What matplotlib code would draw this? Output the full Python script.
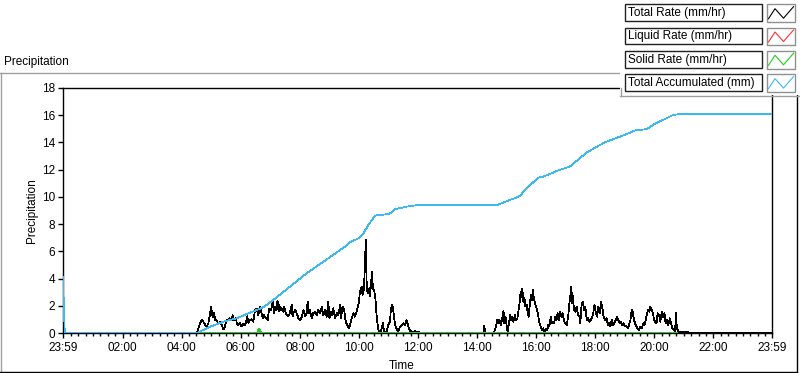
import matplotlib
matplotlib.use("Agg")
import matplotlib.pyplot as plt
from matplotlib.lines import Line2D
from matplotlib.patches import Rectangle
import numpy as np

plt.rcParams["font.family"] = ["Liberation Sans", "DejaVu Sans"]
plt.rcParams["font.size"] = 8

# %%
# Data (time = hours after 23:59)
# -------------------------------

rate_hours = [
    0.00, 4.53, 4.62, 4.69, 4.75, 4.81, 4.86, 4.92, 4.98, 5.01,
    5.07, 5.11, 5.15, 5.20, 5.26, 5.31, 5.37, 5.43, 5.48, 5.54,
    5.60, 5.65, 5.71, 5.74, 5.79, 5.86, 5.88, 5.93, 5.99, 6.05,
    6.10, 6.16, 6.22, 6.24, 6.27, 6.33, 6.39, 6.44, 6.50, 6.56,
    6.61, 6.67, 6.70, 6.76, 6.80, 6.87, 6.93, 6.98, 7.04, 7.10,
    7.14, 7.18, 7.21, 7.26, 7.30, 7.32, 7.37, 7.41, 7.46, 7.49,
    7.54, 7.59, 7.63, 7.68, 7.74, 7.77, 7.82, 7.87, 7.91, 7.97,
    8.02, 8.08, 8.11, 8.14, 8.19, 8.25, 8.28, 8.33, 8.36, 8.42,
    8.47, 8.53, 8.59, 8.64, 8.70, 8.76, 8.81, 8.87, 8.93, 8.98,
    9.02, 9.07, 9.12, 9.15, 9.21, 9.27, 9.32, 9.38, 9.41, 9.46,
    9.52, 9.57, 9.62, 9.68, 9.73, 9.77, 9.83, 9.88, 9.94, 9.98,
    10.02, 10.05, 10.11, 10.14, 10.19, 10.22, 10.25, 10.28, 10.31, 10.36,
    10.39, 10.43, 10.46, 10.49, 10.54, 10.57, 10.61, 10.65, 10.70, 10.74,
    10.79, 10.83, 10.87, 10.91, 10.96, 11.01, 11.07, 11.10, 11.15, 11.19,
    11.24, 11.29, 11.35, 11.41, 11.47, 11.52, 11.58, 11.63, 11.69, 11.75,
    11.80, 11.86, 11.92, 11.97, 12.03, 12.08, 14.23, 14.26, 14.30, 14.59,
    14.62, 14.66, 14.70, 14.74, 14.77, 14.82, 14.86, 14.91, 14.94, 14.98,
    15.02, 15.05, 15.10, 15.13, 15.16, 15.21, 15.24, 15.30, 15.33, 15.38,
    15.42, 15.47, 15.49, 15.53, 15.55, 15.58, 15.62, 15.65, 15.70, 15.73,
    15.76, 15.81, 15.84, 15.88, 15.90, 15.94, 15.98, 16.01, 16.06, 16.09,
    16.13, 16.17, 16.21, 16.26, 16.30, 16.35, 16.39, 16.43, 16.46, 16.51,
    16.54, 16.57, 16.62, 16.67, 16.71, 16.74, 16.78, 16.82, 16.87, 16.91,
    16.96, 16.99, 17.05, 17.10, 17.14, 17.17, 17.21, 17.23, 17.25, 17.30,
    17.34, 17.39, 17.43, 17.48, 17.51, 17.55, 17.59, 17.64, 17.68, 17.73,
    17.77, 17.82, 17.90, 17.95, 17.99, 18.03, 18.08, 18.12, 18.18, 18.21,
    18.26, 18.30, 18.35, 18.40, 18.44, 18.48, 18.53, 18.57, 18.62, 18.66,
    18.71, 18.75, 18.80, 18.84, 18.89, 18.93, 18.98, 19.02, 19.07, 19.12,
    19.16, 19.21, 19.25, 19.28, 19.32, 19.36, 19.41, 19.45, 19.50, 19.54,
    19.59, 19.64, 19.68, 19.73, 19.77, 19.81, 19.85, 19.88, 19.93, 19.97,
    20.01, 20.04, 20.09, 20.13, 20.18, 20.22, 20.27, 20.31, 20.36, 20.40,
    20.45, 20.49, 20.54, 20.58, 20.63, 20.67, 20.72, 20.75, 20.78, 20.83,
    20.87, 20.94, 20.99, 21.05, 21.11, 21.16, 21.22, 24.00,
]

total_rate = [
    0, 0, 0.59, 0.96, 0.83, 0.59, 0.47, 0.71, 1.45, 1.89,
    1.15, 1.45, 0.96, 0.91, 0.71, 0.83, 0.59, 0.27, 0.47, 0.96,
    1.01, 1.08, 0.96, 1.32, 0.96, 1.08, 0.71, 0.59, 0.71, 0.47,
    0.66, 0.59, 0.96, 1.23, 0.76, 0.96, 1.01, 0.83, 1.69, 1.81,
    1.32, 1.94, 1.69, 1.08, 1.32, 1.08, 0.96, 1.81, 1.69, 2.30,
    1.45, 1.94, 1.69, 2.38, 1.57, 2.06, 1.69, 1.81, 1.57, 1.94,
    1.45, 1.32, 1.23, 1.45, 2.06, 1.23, 1.57, 1.69, 1.45, 1.08,
    0.96, 1.15, 1.45, 1.69, 1.23, 1.45, 2.30, 1.45, 1.69, 1.08,
    1.45, 1.57, 1.32, 1.69, 1.45, 1.94, 1.32, 1.69, 1.20, 2.30,
    1.08, 1.57, 1.32, 1.81, 1.08, 1.45, 1.32, 2.06, 1.08, 1.94,
    1.69, 0.83, 0.59, 0.34, 0.71, 1.08, 1.45, 1.20, 1.57, 1.94,
    2.30, 3.04, 3.41, 2.79, 3.28, 5.00, 6.84, 3.53, 2.92, 3.28,
    2.67, 3.77, 4.51, 3.28, 3.04, 2.67, 1.45, 0.59, 0, 0,
    0.34, 0.71, 0, 0, 0.10, 0.59, 0.83, 1.81, 2.06, 1.45,
    0.59, 0.34, 0.10, 0.47, 0.59, 0.71, 0.59, 0.96, 0.47, 0.17,
    0.10, 0, 0.17, 0, 0.07, 0, 0, 0.51, 0, 0,
    0.22, 0.47, 0.96, 0.71, 1.00, 0.59, 0.96, 1.64, 0.71, 1.20,
    0.47, 0.10, 0.71, 1.32, 0.96, 1.20, 0.83, 1.32, 0.96, 1.08,
    1.69, 2.43, 3.04, 2.67, 3.28, 2.30, 2.55, 1.94, 2.06, 1.45,
    1.20, 2.30, 2.79, 2.43, 3.16, 2.55, 2.18, 1.94, 1.57, 1.20,
    0.71, 0.47, 0.22, 0.34, 0.10, 0.27, 0.22, 0.59, 0.47, 1.20,
    0.71, 0.83, 0.71, 1.20, 0.96, 1.45, 0.96, 1.57, 1.20, 1.45,
    0.96, 0.71, 0.59, 1.20, 2.18, 2.67, 3.41, 2.18, 2.79, 1.69,
    1.57, 1.94, 1.32, 1.20, 0.71, 1.94, 2.30, 1.69, 1.94, 0.96,
    1.08, 0.83, 1.08, 1.45, 2.06, 1.57, 1.20, 1.94, 1.45, 2.30,
    1.81, 1.20, 0.96, 1.08, 0.59, 0.71, 0.47, 0.96, 0.59, 0.71,
    0.96, 1.20, 0.96, 0.71, 0.83, 0.59, 0.71, 0.47, 0.51, 0.34,
    0.59, 0.96, 1.69, 1.57, 1.08, 0.71, 0.47, 0.34, 0.22, 0.47,
    0.34, 0.71, 0.59, 0.96, 1.45, 1.69, 1.57, 1.94, 1.69, 1.45,
    0.96, 0.83, 0.71, 1.45, 1.32, 0.83, 1.57, 1.20, 1.45, 0.71,
    0.96, 0.59, 1.08, 0.71, 0.34, 0.22, 0.10, 1.45, 0.34, 0.10,
    0.05, 0.10, 0.02, 0.10, 0.02, 0.05, 0, 0,
]

# all precipitation was liquid except one short solid blip
liquid_rate = list(total_rate)

solid_hours = [4.53, 6.60, 6.64, 6.68, 20.78]
solid_rate = [0, 0, 0.25, 0, 0]

acc_hours = [
    0.00, 0.03, 0.06, 4.53, 4.98, 5.43, 5.88, 6.33, 6.78, 7.12,
    7.68, 8.25, 8.70, 8.98, 9.55, 9.66, 10.00, 10.17, 10.26, 10.34,
    10.56, 11.05, 11.24, 11.64, 11.97, 14.68, 15.07, 15.23, 15.47, 15.64,
    16.08, 16.26, 16.82, 17.16, 17.73, 18.18, 18.41, 18.86, 19.08, 19.36,
    19.76, 20.04, 20.44, 20.66, 20.88, 24.00,
]
total_acc = [
    4.1, 2.0, 0, 0, 0.46, 0.83, 1.08, 1.49, 1.89, 2.43,
    3.40, 4.39, 5.07, 5.49, 6.35, 6.60, 6.96, 7.33, 7.65, 7.94,
    8.63, 8.75, 9.10, 9.29, 9.39, 9.39, 9.73, 9.85, 10.07, 10.51,
    11.40, 11.49, 11.99, 12.23, 13.26, 13.82, 14.07, 14.43, 14.61, 14.88,
    14.98, 15.37, 15.79, 16.03, 16.08, 16.08,
]

series_names = ["Total Rate (mm/hr)", "Liquid Rate (mm/hr)",
                "Solid Rate (mm/hr)", "Total Accumulated (mm)"]
series_colors = ["#000000", "#ff3030", "#22cc22", "#3cbaf0"]

x_tick_labels = ["23:59", "02:00", "04:00", "06:00", "08:00", "10:00", "12:00",
                 "14:00", "16:00", "18:00", "20:00", "22:00", "23:59"]
y_ticks = [0, 2, 4, 6, 8, 10, 12, 14, 16, 18]


def hours_after_start(label, last=False):
    hh, mm = map(int, label.split(":"))
    if last:
        return 24.0
    return ((hh * 60 + mm - (23 * 60 + 59)) % 1440) / 60.0


x_ticks = [hours_after_start(l, last=(i == len(x_tick_labels) - 1))
           for i, l in enumerate(x_tick_labels)]

# %%
# Figure
# ------
W, H = 800, 373


def fx(x):
    return x / W


def fy(y):
    return 1 - y / H


fig = plt.figure(figsize=(W / 100, H / 100), dpi=100)
fig.patch.set_facecolor("white")
ax = fig.add_axes([fx(63), fy(333), (772 - 63) / W, (333 - 88) / H])

# LabVIEW-style plots: no antialiasing, 1 px lines
ax.plot(rate_hours, liquid_rate, color=series_colors[1], lw=0.4, zorder=1, antialiased=False)
ax.plot(rate_hours, total_rate, color=series_colors[0], lw=0.55, zorder=2, antialiased=False)
ax.plot(solid_hours, solid_rate, color=series_colors[2], lw=1.44, zorder=3, antialiased=False)
ax.plot(acc_hours, total_acc, color=series_colors[3], lw=0.55, zorder=4, antialiased=False)

ax.set_xlim(0, 24)
ax.set_ylim(0, 18)
ax.set_yticks(y_ticks)
ax.set_xticks(x_ticks)
ax.set_xticklabels(x_tick_labels)
ax.set_xticks(np.arange(x_ticks[1] - 2, 24, 0.25)[1:], minor=True)
ax.tick_params(axis="y", length=3.5, width=1, pad=2, labelsize=8.5)
ax.tick_params(axis="x", which="major", length=3.5, width=1, pad=3, labelsize=8.5)
ax.tick_params(axis="x", which="minor", length=2.2, width=1)
for s in ax.spines.values():
    s.set_color("black")
    s.set_linewidth(1.0)

ax.set_ylabel("Precipitation", va="center", fontsize=8.5)
ax.yaxis.set_label_coords(-31 / 709, 0.5)
ax.set_xlabel("Time", va="center", fontsize=8.5)
ax.xaxis.set_label_coords((402 - 63) / 709, -33 / 245)

fig.text(fx(4), fy(62), "Precipitation", ha="left", va="center", fontsize=8.5)

# outer frame
fig.add_artist(Line2D([fx(0), fx(620)], [fy(72.5)] * 2, color="#a0a0a0", lw=1))
fig.add_artist(Line2D([fx(0.5)] * 2, [fy(72.5), fy(373)], color="#a0a0a0", lw=1))
fig.add_artist(Line2D([fx(0), fx(797)], [fy(372)] * 2, color="black", lw=1))
fig.add_artist(Line2D([fx(797)] * 2, [fy(95), fy(372)], color="black", lw=1))

# legend panel
fig.add_artist(Rectangle((fx(620), fy(95)), fx(180), 95 / H, transform=fig.transFigure,
                         facecolor="white", edgecolor="none", zorder=5))
fig.add_artist(Line2D([fx(620), fx(800)], [fy(95.5)] * 2, color="#a0a0a0", lw=1, zorder=6))
fig.add_artist(Line2D([fx(620.5)] * 2, [fy(88), fy(95.5)], color="#a0a0a0", lw=1, zorder=6))

zig_x = [768.5, 775, 783.5, 793.5]
zig_y = [18.5, 8.5, 18.0, 6.5]
for i, (name, col) in enumerate(zip(series_names, series_colors)):
    top = 4.5 + i * 23.3
    fig.add_artist(Rectangle((fx(625), fy(top + 16.5)), fx(762 - 625), 16.5 / H,
                             transform=fig.transFigure, facecolor="white",
                             edgecolor="#202020", lw=1, zorder=7))
    fig.text(fx(628), fy(top + 8.5), name, ha="left", va="center", fontsize=8.5, zorder=8)
    fig.add_artist(Rectangle((fx(767), fy(top + 17.5)), fx(795 - 767), 17.5 / H,
                             transform=fig.transFigure, facecolor="white",
                             edgecolor="#909090", lw=1, zorder=7))
    fig.add_artist(Line2D([fx(x) for x in zig_x], [fy(top + y - 4.3) for y in zig_y],
                          color=col, lw=0.8, zorder=8))

fig.savefig("out.png", dpi=100)
